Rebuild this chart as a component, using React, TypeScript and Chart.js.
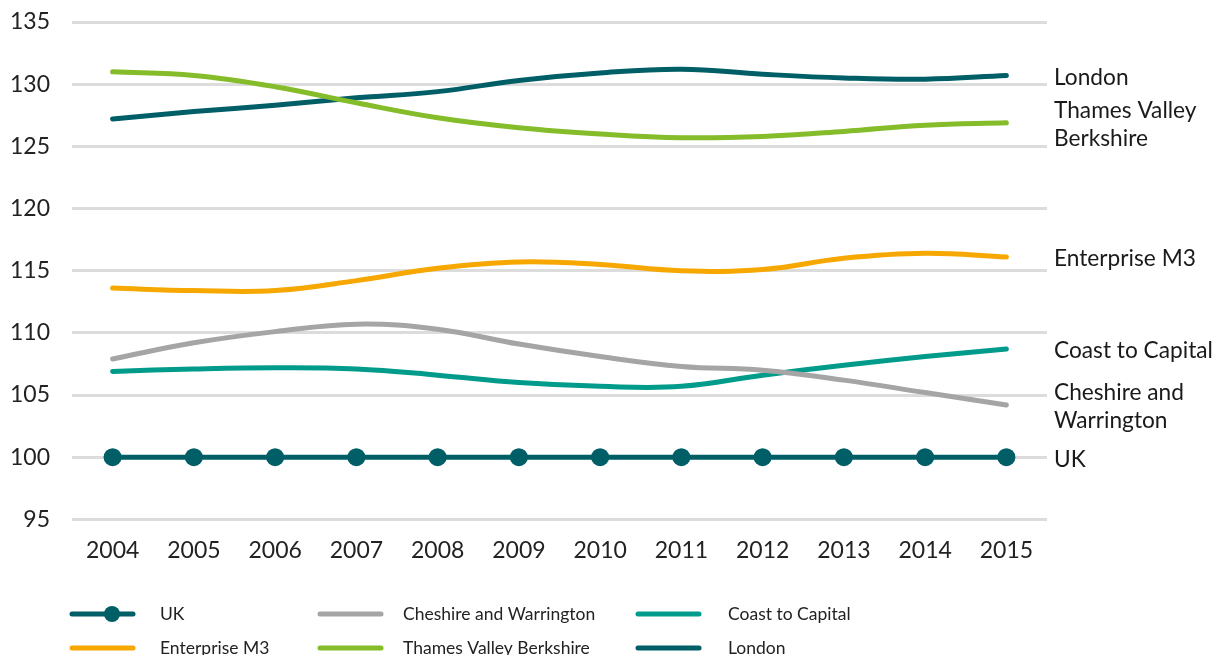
import React, { useEffect, useRef } from "react";
import { Chart, registerables } from "chart.js";

Chart.register(...registerables);

const years = ["2004", "2005", "2006", "2007", "2008", "2009", "2010", "2011", "2012", "2013", "2014", "2015"];
const uk = [100, 100, 100, 100, 100, 100, 100, 100, 100, 100, 100, 100];
const london = [127.2, 127.8, 128.3, 128.9, 129.4, 130.3, 130.9, 131.2, 130.8, 130.5, 130.4, 130.7];
const thamesValley = [131.0, 130.7, 129.8, 128.5, 127.3, 126.5, 126.0, 125.7, 125.8, 126.2, 126.7, 126.9];
const enterpriseM3 = [113.6, 113.4, 113.4, 114.2, 115.2, 115.7, 115.5, 115.0, 115.1, 116.0, 116.4, 116.1];
const cheshire = [107.9, 109.2, 110.1, 110.7, 110.3, 109.1, 108.1, 107.3, 107.0, 106.2, 105.2, 104.2];
const coastToCapital = [106.9, 107.1, 107.2, 107.1, 106.6, 106.0, 105.7, 105.7, 106.6, 107.4, 108.1, 108.7];
const yTicks = [95, 100, 105, 110, 115, 120, 125, 130, 135];

const endLabels: Record<string, string[]> = {
  UK: ["UK"],
  London: ["London"],
  "Thames Valley Berkshire": ["Thames Valley", "Berkshire"],
  "Enterprise M3": ["Enterprise M3"],
  "Cheshire and Warrington": ["Cheshire and", "Warrington"],
  "Coast to Capital": ["Coast to Capital"],
};

// legend order: rows of three
const legendOrder = [
  "UK",
  "Cheshire and Warrington",
  "Coast to Capital",
  "Enterprise M3",
  "Thames Valley Berkshire",
  "London",
];

const FONT = "Lato, 'Open Sans', sans-serif";

const labelPlugin = {
  id: "endLabels",
  afterDatasetsDraw(chart: any) {
    const ctx = chart.ctx;
    ctx.save();
    ctx.font = `22.7px ${FONT}`;
    ctx.fillStyle = "#1a1a1a";
    ctx.textAlign = "left";
    ctx.textBaseline = "middle";
    chart.data.datasets.forEach((ds: any, i: number) => {
      const meta = chart.getDatasetMeta(i);
      const last = meta.data[meta.data.length - 1];
      const lines = endLabels[ds.label] || [ds.label];
      const lh = 28;
      const y0 = last.y + 2 - ((lines.length - 1) * lh) / 2;
      lines.forEach((t: string, k: number) => {
        ctx.fillText(t, chart.chartArea.right + 7, y0 + k * lh);
      });
    });

    // legend
    const cols = [
      { lx: 72, tx: 160 },
      { lx: 320, tx: 403 },
      { lx: 638, tx: 728 },
    ];
    const rows = [614, 648];
    ctx.font = `17.5px ${FONT}`;
    ctx.fillStyle = "#222";
    legendOrder.forEach((name, idx) => {
      const ds = chart.data.datasets.find((d: any) => d.label === name);
      if (!ds) return;
      const c = cols[idx % 3];
      const y = rows[Math.floor(idx / 3)];
      ctx.strokeStyle = ds.borderColor;
      ctx.lineWidth = 5;
      ctx.lineCap = "round";
      ctx.beginPath();
      ctx.moveTo(c.lx, y);
      ctx.lineTo(c.lx + 61, y);
      ctx.stroke();
      if (ds.pointRadius > 0) {
        ctx.fillStyle = ds.borderColor;
        ctx.beginPath();
        ctx.arc(c.lx + 40, y, 8, 0, Math.PI * 2);
        ctx.fill();
        ctx.fillStyle = "#222";
      }
      ctx.fillText(name, c.tx, y);
    });
    ctx.restore();
  },
};

export default function App() {
  const ref = useRef<HTMLCanvasElement>(null);
  useEffect(() => {
    if (!ref.current) return;
    const mk = (label: string, data: number[], color: string, pr = 0) => ({
      label,
      data,
      borderColor: color,
      backgroundColor: color,
      borderWidth: 5,
      pointRadius: pr,
      pointHoverRadius: pr,
      pointBorderWidth: 0,
      tension: 0.4,
      borderCapStyle: "round",
      fill: false,
    });
    const chart = new Chart(ref.current, {
      type: "line",
      data: {
        labels: years,
        datasets: [
          mk("Cheshire and Warrington", cheshire, "#a5a5a5"),
          mk("Coast to Capital", coastToCapital, "#009b8a"),
          mk("Enterprise M3", enterpriseM3, "#f6a800"),
          mk("Thames Valley Berkshire", thamesValley, "#84bc2a"),
          mk("London", london, "#005e66"),
          mk("UK", uk, "#005e66", 9),
        ] as any,
      },
      options: {
        animation: false,
        responsive: false,
        maintainAspectRatio: false,
        layout: { padding: { top: 22, right: 175, bottom: 74, left: 0 } },
        plugins: { legend: { display: false }, tooltip: { enabled: false } },
        scales: {
          x: {
            offset: true,
            grid: { display: false, drawTicks: false },
            border: { display: false },
            ticks: { color: "#222", font: { family: FONT, size: 23 }, padding: 17, maxRotation: 0 },
          },
          y: {
            min: 95,
            max: 135,
            afterBuildTicks: (axis: any) => {
              axis.ticks = yTicks.map((v) => ({ value: v }));
            },
            afterFit: (axis: any) => {
              axis.width = 72;
            },
            grid: { color: "#dcdcdc", lineWidth: 3, drawTicks: true, tickLength: 14, tickColor: "rgba(0,0,0,0)" },
            border: { display: false },
            ticks: { color: "#222", font: { family: FONT, size: 23 }, padding: 8 },
          },
        },
      },
      plugins: [labelPlugin],
    });
    return () => chart.destroy();
  }, []);
  return (
    <div style={{ position: "fixed", left: 0, top: 0, width: 1222, height: 655, background: "#fff" }}>
      <canvas ref={ref} width={1222} height={655} style={{ width: 1222, height: 655 }} />
    </div>
  );
}
